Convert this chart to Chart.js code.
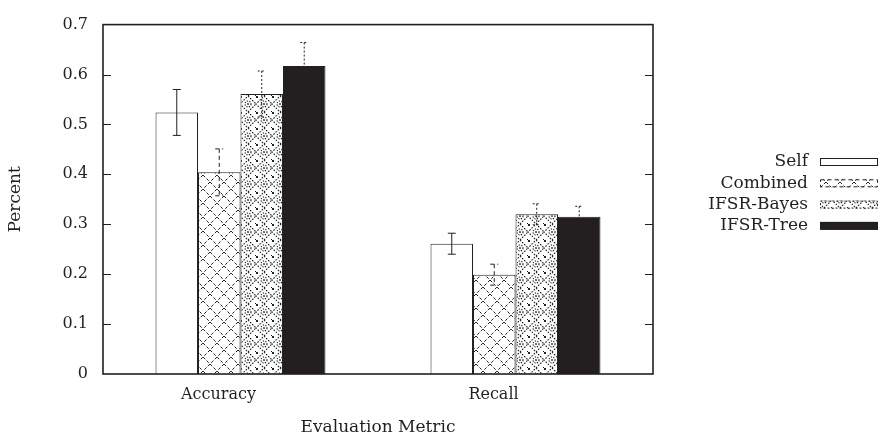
<!DOCTYPE html>
<html>
<head>
<meta charset="utf-8">
<script src="https://cdn.jsdelivr.net/npm/chart.js@4.4.1/dist/chart.umd.min.js"></script>
<style>
  body { margin: 0; background: #fff; }
  canvas { display: block; }
</style>
</head>
<body>
<canvas id="evalChart" width="880" height="438"></canvas>
<script>
// Data
var categories = ['Accuracy', 'Recall'];
var seriesNames = ['Self', 'Combined', 'IFSR-Bayes', 'IFSR-Tree'];
var selfValues = [0.524, 0.261];
var combinedValues = [0.404, 0.199];
var bayesValues = [0.561, 0.320];
var treeValues = [0.617, 0.315];
var selfErrors = [0.046, 0.021];
var combinedErrors = [0.047, 0.021];
var bayesErrors = [0.046, 0.021];
var treeErrors = [0.047, 0.021];
var yTicks = [0, 0.1, 0.2, 0.3, 0.4, 0.5, 0.6, 0.7];

var INK = '#231f20';
var FONT = 'DejaVu Serif';

// Hatch patterns, roughly like the gnuplot fill styles
function makeCrossPattern() {
    var c = document.createElement('canvas');
    c.width = 14; c.height = 14;
    var g = c.getContext('2d');
    g.fillStyle = '#fff';
    g.fillRect(0, 0, 14, 14);
    g.strokeStyle = INK;
    g.lineWidth = 1;
    g.setLineDash([3, 2]);
    g.beginPath();
    g.moveTo(0, 0); g.lineTo(14, 14);
    g.moveTo(14, 0); g.lineTo(0, 14);
    g.stroke();
    return document.createElement('canvas').getContext('2d').createPattern(c, 'repeat');
}

function makeDiamondPattern() {
    var s = 16, h = s / 2;
    var c = document.createElement('canvas');
    c.width = s; c.height = s;
    var g = c.getContext('2d');
    g.fillStyle = '#fff';
    g.fillRect(0, 0, s, s);
    g.strokeStyle = INK;
    g.lineWidth = 1.1;
    g.setLineDash([1.6, 1.4]);
    g.beginPath();
    g.moveTo(h, 0); g.lineTo(s, h); g.lineTo(h, s); g.lineTo(0, h); g.closePath();
    g.stroke();
    g.setLineDash([1.3, 1.2]);
    g.beginPath();
    g.arc(h, h, 3, 0, Math.PI * 2);
    g.stroke();
    g.fillStyle = INK;
    g.fillRect(0, 0, 2, 2);
    g.fillRect(s - 1, s - 1, 1, 1);
    g.fillRect(h - 0.8, h - 0.8, 1.6, 1.6);
    return document.createElement('canvas').getContext('2d').createPattern(c, 'repeat');
}

var crossPattern = makeCrossPattern();
var diamondPattern = makeDiamondPattern();

var errorSets = [selfErrors, combinedErrors, bayesErrors, treeErrors];
var errorDash = [[], [4, 3], [2, 2], [2, 2]];

// Frame, inward ticks, error bars, y title and legend
var decorations = {
    id: 'decorations',
    afterDatasetsDraw: function(chart) {
        var ctx = chart.ctx;
        var y = chart.scales.y;
        ctx.save();
        ctx.strokeStyle = INK;
        ctx.lineWidth = 1;
        chart.data.datasets.forEach(function(ds, i) {
            var meta = chart.getDatasetMeta(i);
            ctx.setLineDash(errorDash[i]);
            meta.data.forEach(function(bar, j) {
                var v = ds.data[j];
                var e = errorSets[i][j];
                var top = y.getPixelForValue(v + e);
                var bot = y.getPixelForValue(v - e);
                ctx.beginPath();
                ctx.moveTo(bar.x, top); ctx.lineTo(bar.x, bot);
                ctx.moveTo(bar.x - 4, top); ctx.lineTo(bar.x + 4, top);
                ctx.moveTo(bar.x - 4, bot); ctx.lineTo(bar.x + 4, bot);
                ctx.stroke();
            });
        });
        ctx.restore();
    },
    afterDraw: function(chart) {
        var ctx = chart.ctx;
        var a = chart.chartArea;
        var y = chart.scales.y;
        ctx.save();
        ctx.strokeStyle = INK;
        ctx.lineWidth = 1.6;
        ctx.strokeRect(a.left, a.top, a.right - a.left, a.bottom - a.top);
        ctx.lineWidth = 1;
        yTicks.slice(1, -1).forEach(function(t) {
            var py = Math.round(y.getPixelForValue(t)) + 0.5;
            ctx.beginPath();
            ctx.moveTo(a.left, py); ctx.lineTo(a.left + 8, py);
            ctx.moveTo(a.right, py); ctx.lineTo(a.right - 8, py);
            ctx.stroke();
        });

        ctx.fillStyle = INK;
        ctx.font = '17px "' + FONT + '"';
        ctx.textBaseline = 'middle';
        ctx.textAlign = 'center';
        ctx.save();
        ctx.translate(16, (a.top + a.bottom) / 2);
        ctx.rotate(-Math.PI / 2);
        ctx.fillText('Percent', 0, 0);
        ctx.restore();

        ctx.textAlign = 'right';
        chart.data.datasets.forEach(function(ds, i) {
            var ly = 162 + i * 21.3;
            ctx.fillStyle = INK;
            ctx.fillText(ds.label, 808, ly);
            ctx.fillStyle = ds.backgroundColor;
            ctx.fillRect(820, ly - 4, 58, 8);
            ctx.strokeStyle = INK;
            ctx.lineWidth = 1;
            ctx.setLineDash(errorDash[i]);
            ctx.strokeRect(820.5, ly - 3.5, 57, 7);
            ctx.setLineDash([]);
        });
        ctx.restore();
    }
};

document.addEventListener('DOMContentLoaded', function() {
    var ctx = document.getElementById('evalChart').getContext('2d');
    var evalChart = new Chart(ctx, {
        type: 'bar',
        data: {
            labels: categories,
            datasets: [{
                label: seriesNames[0],
                data: selfValues,
                backgroundColor: '#ffffff',
                borderColor: INK,
                borderWidth: 1
            }, {
                label: seriesNames[1],
                data: combinedValues,
                backgroundColor: crossPattern,
                borderColor: INK,
                borderWidth: 1
            }, {
                label: seriesNames[2],
                data: bayesValues,
                backgroundColor: diamondPattern,
                borderColor: INK,
                borderWidth: 1
            }, {
                label: seriesNames[3],
                data: treeValues,
                backgroundColor: INK,
                borderColor: INK,
                borderWidth: 1
            }]
        },
        options: {
            responsive: false,
            animation: false,
            devicePixelRatio: 1,
            layout: {
                padding: { top: 15, right: 227, left: 0, bottom: 0 }
            },
            datasets: {
                bar: {
                    categoryPercentage: 0.618,
                    barPercentage: 1,
                    borderSkipped: 'bottom'
                }
            },
            plugins: {
                legend: { display: false },
                tooltip: { enabled: false }
            },
            scales: {
                x: {
                    grid: { display: false, drawTicks: false },
                    border: { display: false },
                    ticks: {
                        color: INK,
                        font: { family: FONT, size: 16 },
                        padding: 11,
                        labelOffset: -22
                    },
                    title: {
                        display: true,
                        text: 'Evaluation Metric',
                        color: INK,
                        font: { family: FONT, size: 17 },
                        padding: { top: 9, bottom: 0 }
                    },
                    afterFit: function(scale) { scale.height = 64; }
                },
                y: {
                    min: 0,
                    max: 0.7,
                    grid: { display: false, drawTicks: false },
                    border: { display: false },
                    ticks: {
                        stepSize: 0.1,
                        color: INK,
                        font: { family: FONT, size: 16 },
                        padding: 15,
                        callback: function(v) {
                            return yTicks.indexOf(Math.round(v * 10) / 10) >= 0 ? String(Math.round(v * 10) / 10) : '';
                        }
                    },
                    afterFit: function(scale) { scale.width = 103; }
                }
            }
        },
        plugins: [decorations]
    });
});
</script>
</body>
</html>
